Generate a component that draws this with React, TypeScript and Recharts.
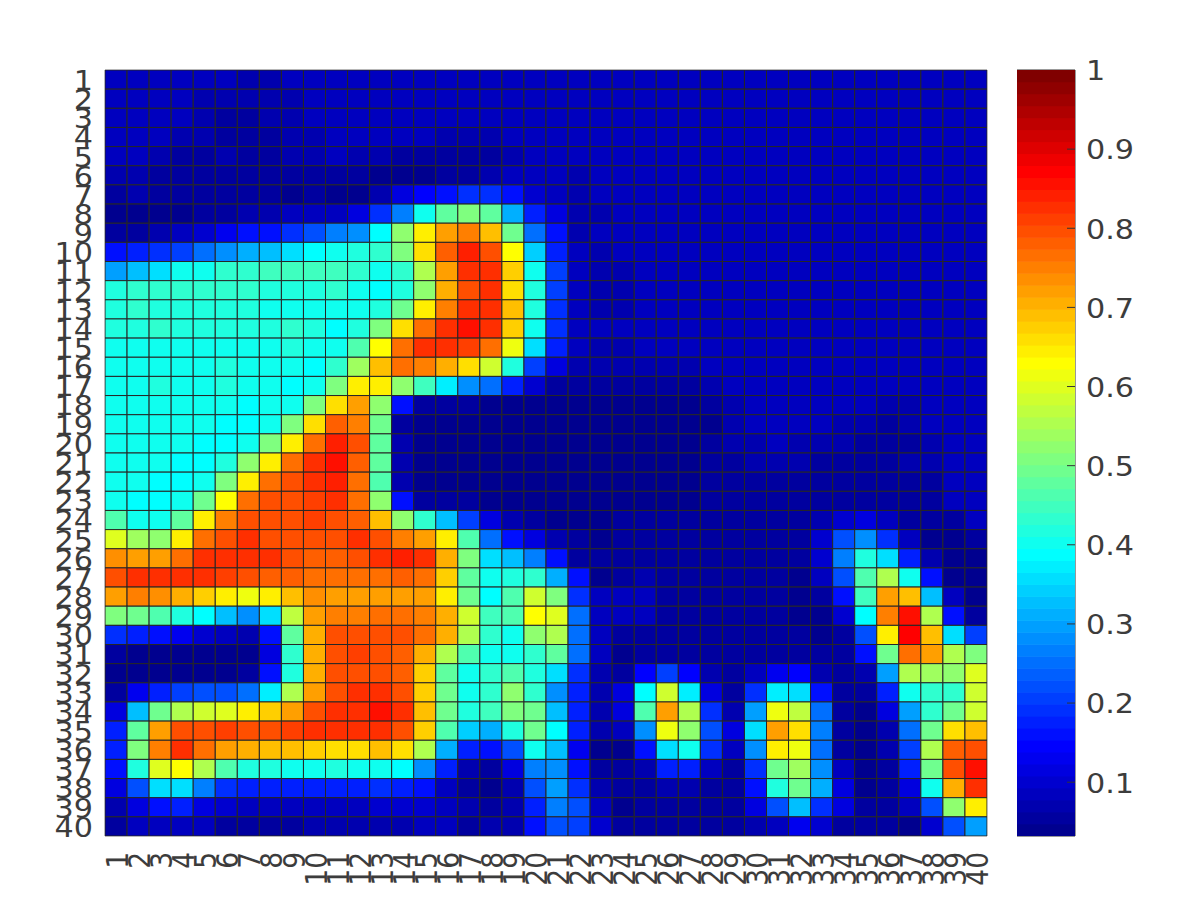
import React from 'react';
import { ScatterChart, Scatter, XAxis, YAxis, ReferenceArea } from 'recharts';

const r01 = [.09,.085,.085,.085,.08,.08,.075,.075,.08,.08,.085, .085,.085,.085,.085,.085,.09,.09,.085,.085,.085,.085,.085,.085, .085,.085,.085,.085,.085,.085,.085,.085,.085,.085,.085,.085,.085,.085,.085,.085];
const r02 = [.09,.085,.09,.08,.075,.07,.065,.07,.075,.08,.085, .085,.085,.085,.085,.085,.085,.085,.085,.085,.085,.085,.085,.085, .085,.085,.085,.085,.085,.085,.085,.085,.085,.085,.085,.085,.085,.085,.085,.085];
const r03 = [.09,.085,.08,.08,.07,.06,.055,.065,.07,.08,.085, .085,.085,.085,.085,.085,.09,.085,.085,.085,.085,.085,.085,.085, .085,.085,.085,.085,.085,.085,.085,.085,.085,.085,.085,.085,.085,.085,.085,.085];
const r04 = [.09,.085,.085,.07,.065,.06,.06,.06,.065,.075,.085, .085,.08,.08,.08,.07,.065,.075,.08,.085,.085,.085,.085,.085, .085,.085,.085,.085,.085,.085,.085,.085,.085,.085,.085,.085,.085,.085,.085,.085];
const r05 = [.085,.085,.075,.06,.06,.065,.06,.06,.065,.07,.08, .07,.07,.055,.055,.05,.06,.055,.07,.08,.08,.085,.085,.085, .085,.085,.085,.085,.085,.085,.085,.085,.085,.085,.085,.085,.085,.085,.085,.085];
const r06 = [.07,.075,.06,.055,.055,.06,.06,.06,.055,.055,.06, .055,.045,.045,.045,.06,.06,.07,.08,.08,.08,.075,.085,.085, .085,.085,.085,.085,.085,.085,.085,.085,.085,.085,.085,.085,.085,.085,.085,.085];
const r07 = [.06,.065,.06,.06,.055,.05,.05,.05,.045,.05,.045, .045,.07,.11,.15,.165,.19,.19,.155,.1,.08,.075,.08,.085, .085,.085,.085,.085,.085,.085,.085,.085,.085,.085,.085,.085,.085,.085,.085,.085];
const r08 = [.04,.04,.04,.045,.05,.05,.065,.075,.08,.085,.09, .12,.19,.26,.395,.48,.515,.475,.31,.17,.11,.075,.075,.085, .085,.085,.085,.085,.085,.085,.085,.085,.085,.085,.085,.085,.085,.085,.085,.085];
const r09 = [.05,.05,.07,.09,.095,.13,.155,.16,.19,.225,.26, .28,.39,.52,.64,.72,.75,.69,.49,.25,.155,.07,.08,.085, .085,.085,.085,.085,.085,.085,.085,.085,.085,.085,.085,.085,.085,.085,.085,.085];
const r10 = [.155,.17,.19,.21,.25,.275,.31,.33,.35,.39,.395, .42,.44,.51,.66,.785,.84,.80,.63,.34,.17,.08,.075,.08, .085,.085,.085,.085,.085,.085,.085,.085,.085,.085,.085,.085,.085,.085,.085,.085];
const r11 = [.30,.33,.36,.395,.40,.43,.43,.45,.45,.45,.45, .43,.40,.43,.55,.72,.82,.82,.67,.395,.20,.08,.075,.07, .085,.085,.085,.085,.085,.085,.085,.085,.085,.085,.085,.085,.085,.085,.085,.085];
const r12 = [.42,.44,.44,.44,.44,.44,.44,.42,.42,.42,.43, .40,.38,.42,.52,.70,.80,.82,.665,.42,.20,.08,.07,.07, .085,.085,.085,.085,.085,.085,.085,.085,.085,.085,.085,.085,.085,.085,.085,.085];
const r13 = [.42,.44,.42,.42,.42,.42,.42,.41,.41,.40,.40, .395,.42,.49,.64,.755,.82,.82,.69,.42,.19,.08,.075,.075, .085,.085,.085,.085,.085,.085,.085,.085,.085,.085,.085,.085,.085,.085,.085,.085];
const r14 = [.42,.42,.43,.42,.42,.42,.42,.42,.43,.42,.39, .42,.51,.665,.77,.82,.85,.82,.67,.395,.19,.09,.08,.08, .085,.085,.085,.085,.085,.085,.085,.085,.085,.085,.085,.085,.085,.085,.085,.085];
const r15 = [.41,.41,.41,.41,.41,.41,.41,.41,.42,.395,.395, .46,.63,.77,.83,.83,.81,.77,.61,.36,.17,.08,.075,.07, .08,.085,.085,.085,.085,.085,.085,.085,.085,.085,.085,.085,.085,.085,.085,.085];
const r16 = [.41,.41,.41,.41,.41,.42,.41,.41,.395,.39,.44, .54,.69,.77,.75,.71,.66,.58,.42,.21,.12,.075,.07,.07, .07,.065,.065,.085,.085,.085,.085,.085,.085,.085,.085,.085,.085,.085,.085,.085];
const r17 = [.41,.41,.42,.41,.41,.42,.41,.395,.39,.41,.51, .64,.64,.52,.45,.37,.28,.25,.17,.10,.06,.05,.055,.055, .055,.055,.055,.07,.085,.085,.085,.085,.085,.085,.085,.085,.085,.085,.085,.085];
const r18 = [.40,.40,.41,.41,.41,.41,.39,.395,.40,.51,.665, .72,.53,.155,.05,.05,.05,.045,.04,.04,.04,.04,.045,.04, .04,.04,.035,.05,.075,.085,.085,.085,.085,.085,.085,.075,.07,.08,.085,.085];
const r19 = [.40,.40,.41,.41,.41,.39,.39,.41,.51,.66,.785, .755,.49,.06,.04,.04,.04,.04,.04,.04,.04,.04,.04,.04, .04,.04,.035,.045,.07,.085,.085,.08,.08,.075,.065,.06,.07,.08,.09,.09];
const r20 = [.40,.40,.41,.40,.39,.39,.41,.51,.645,.77,.84, .80,.48,.07,.045,.04,.04,.04,.04,.04,.04,.04,.04,.04, .04,.04,.04,.05,.07,.075,.08,.075,.07,.065,.06,.06,.055,.07,.085,.09];
const r21 = [.40,.40,.41,.39,.39,.42,.52,.65,.76,.82,.86, .785,.48,.07,.04,.04,.04,.04,.04,.04,.04,.04,.04,.04, .04,.04,.04,.05,.06,.065,.07,.065,.06,.05,.05,.05,.065,.07,.085,.09];
const r22 = [.41,.40,.39,.39,.41,.51,.64,.76,.80,.82,.84, .77,.46,.07,.04,.04,.04,.04,.04,.04,.04,.04,.04,.04, .045,.04,.04,.05,.06,.06,.055,.05,.05,.055,.05,.05,.055,.06,.09,.09];
const r23 = [.40,.39,.39,.40,.50,.63,.76,.80,.80,.81,.82, .77,.53,.155,.06,.05,.06,.04,.04,.04,.04,.04,.04,.04, .04,.04,.04,.05,.055,.06,.06,.055,.05,.05,.05,.05,.055,.06,.085,.09];
const r24 = [.46,.40,.40,.48,.64,.75,.80,.80,.80,.81,.80, .785,.695,.53,.43,.32,.20,.12,.075,.05,.04,.04,.04,.05, .05,.05,.05,.05,.05,.05,.05,.05,.07,.10,.12,.08,.05,.05,.06,.08];
const r25 = [.60,.54,.53,.64,.76,.80,.82,.80,.80,.80,.80, .82,.79,.755,.72,.64,.46,.25,.16,.12,.07,.05,.045,.055, .05,.05,.05,.05,.05,.05,.05,.05,.10,.22,.28,.19,.08,.045,.04,.06];
const r26 = [.73,.72,.72,.77,.82,.83,.82,.82,.80,.78,.785, .80,.82,.84,.82,.70,.51,.36,.32,.27,.16,.06,.05,.05, .06,.06,.06,.055,.05,.05,.05,.05,.10,.27,.42,.36,.17,.07,.04,.035];
const r27 = [.80,.82,.82,.82,.82,.81,.79,.78,.78,.76,.765, .76,.76,.785,.77,.67,.48,.395,.42,.43,.31,.155,.045,.05, .07,.06,.06,.055,.05,.05,.05,.045,.08,.22,.47,.55,.395,.155,.04,.035];
const r28 = [.72,.75,.73,.70,.67,.64,.62,.64,.69,.73,.72, .72,.72,.72,.72,.645,.50,.38,.46,.59,.51,.19,.09,.08, .09,.06,.06,.055,.05,.05,.05,.04,.05,.155,.45,.72,.695,.33,.09,.035];
const r29 = [.51,.50,.47,.42,.39,.32,.28,.36,.57,.72,.75, .755,.76,.76,.755,.70,.59,.45,.47,.63,.60,.25,.09,.08, .09,.06,.06,.055,.05,.05,.05,.045,.04,.10,.39,.75,.85,.55,.155,.05];
const r30 = [.19,.18,.16,.13,.10,.08,.07,.16,.48,.71,.79, .80,.80,.80,.77,.70,.56,.44,.41,.52,.55,.25,.08,.05, .05,.05,.05,.06,.06,.06,.05,.05,.04,.06,.22,.64,.87,.695,.36,.20];
const r31 = [.06,.04,.04,.04,.04,.045,.045,.12,.43,.70,.80, .81,.79,.785,.71,.55,.46,.40,.41,.44,.48,.25,.08,.04, .05,.05,.05,.05,.05,.05,.05,.05,.05,.05,.155,.49,.77,.72,.55,.51];
const r32 = [.04,.04,.04,.04,.04,.04,.05,.16,.42,.70,.80, .80,.80,.78,.67,.48,.395,.43,.47,.42,.36,.19,.07,.05, .15,.21,.15,.07,.05,.08,.13,.15,.07,.05,.07,.29,.55,.54,.52,.60];
const r33 = [.05,.13,.18,.20,.22,.22,.25,.37,.55,.72,.79, .82,.82,.80,.67,.49,.41,.44,.52,.44,.28,.17,.07,.12, .39,.59,.37,.11,.05,.19,.37,.35,.16,.05,.06,.18,.395,.44,.44,.58];
const r34 = [.12,.32,.49,.55,.58,.60,.64,.67,.72,.79,.82, .83,.85,.82,.69,.50,.42,.45,.51,.49,.33,.18,.07,.12, .47,.72,.55,.19,.07,.29,.61,.57,.25,.05,.04,.11,.29,.43,.50,.58];
const r35 = [.17,.48,.72,.80,.80,.81,.80,.80,.81,.82,.82, .82,.82,.80,.67,.46,.34,.31,.42,.49,.39,.18,.07,.08, .28,.61,.53,.22,.11,.35,.72,.665,.27,.05,.04,.07,.25,.50,.665,.695];
const r36 = [.18,.51,.75,.82,.77,.72,.70,.69,.69,.67,.665, .665,.69,.665,.55,.31,.17,.155,.22,.395,.32,.13,.04,.045, .155,.36,.395,.19,.08,.28,.65,.61,.25,.05,.035,.07,.21,.56,.785,.80];
const r37 = [.155,.42,.60,.63,.55,.47,.42,.42,.41,.41,.42, .41,.41,.39,.28,.17,.07,.05,.12,.26,.28,.155,.05,.05, .07,.17,.17,.09,.06,.19,.50,.54,.28,.08,.04,.05,.18,.50,.80,.86];
const r38 = [.12,.22,.36,.35,.26,.19,.17,.17,.18,.17,.17, .17,.19,.17,.155,.09,.05,.04,.07,.22,.30,.19,.07,.05, .05,.07,.07,.05,.05,.155,.42,.50,.31,.12,.04,.05,.11,.395,.71,.82];
const r39 = [.07,.12,.16,.17,.12,.10,.09,.08,.08,.08,.08, .09,.10,.10,.10,.08,.07,.05,.07,.17,.26,.22,.08,.045, .05,.06,.06,.05,.05,.11,.22,.32,.19,.11,.05,.05,.09,.22,.52,.64];
const r40 = [.05,.08,.08,.08,.08,.06,.06,.05,.05,.07,.075, .075,.07,.075,.08,.08,.06,.07,.07,.155,.22,.21,.10,.05, .05,.06,.06,.06,.05,.07,.09,.13,.10,.06,.05,.05,.04,.10,.22,.30];
const valueRows = [r01,r02,r03,r04,r05,r06,r07,r08,r09,r10,r11,r12,r13,r14,r15,r16,r17,r18,r19,r20,r21,r22,r23,r24,r25,r26,r27,r28,r29,r30,r31,r32,r33,r34,r35,r36,r37,r38,r39,r40];

const tickNumbers = [1,2,3,4,5,6,7,8,9,10,11,12,13,14,15,16,17,18,19,20,21,22,23,24,25,26,27,28,29,30,31,32,33,34,35,36,37,38,39,40];
const barTicks = [0.1,0.2,0.3,0.4,0.5,0.6,0.7,0.8,0.9,1];
const jet = [
  '#00008f','#00009f','#0000af','#0000bf','#0000cf','#0000df','#0000ef','#0000ff',
  '#000fff','#001fff','#002fff','#003fff','#004fff','#005fff','#006fff','#007fff',
  '#008fff','#009fff','#00afff','#00bfff','#00cfff','#00dfff','#00efff','#00ffff',
  '#0fffef','#1fffdf','#2fffcf','#3fffbf','#4fffaf','#5fff9f','#6fff8f','#7fff7f',
  '#8fff6f','#9fff5f','#afff4f','#bfff3f','#cfff2f','#dfff1f','#efff0f','#ffff00',
  '#ffef00','#ffdf00','#ffcf00','#ffbf00','#ffaf00','#ff9f00','#ff8f00','#ff7f00',
  '#ff6f00','#ff5f00','#ff4f00','#ff3f00','#ff2f00','#ff1f00','#ff0f00','#ff0000',
  '#ef0000','#df0000','#cf0000','#bf0000','#af0000','#9f0000','#8f0000','#800000',
];
const C_MIN = 0.032;
const C_MAX = 1;
const colorOf = (v: number) => {
  const i = Math.floor(((v - C_MIN) / (C_MAX - C_MIN)) * jet.length);
  return jet[Math.max(0, Math.min(jet.length - 1, i))];
};

const cells = valueRows.flatMap((row, ri) => row.map((v, ci) => ({ col: ci + 1, row: ri + 1, v })));
const barLevels = jet.map((color, i) => ({ x: 0.5, level: C_MIN + ((i + 0.5) * (C_MAX - C_MIN)) / jet.length, color }));

const W = 1196, H = 906;
const PLOT_L = 105, PLOT_T = 70, PLOT_R = 987, PLOT_B = 836;
const CELL_W = (PLOT_R - PLOT_L) / 40;
const CELL_H = (PLOT_B - PLOT_T) / 40;
const BAR_L = 1017, BAR_R = 1075;
const BAR_STEP = (PLOT_B - PLOT_T) / jet.length;
const FONT = '"DejaVu Sans"';
const TEXT = '#3c3c3c';
const SX = 1.14;
const FS = 26.5;

const HeatCell = (p: any) => (
  <rect x={p.cx - CELL_W / 2} y={p.cy - CELL_H / 2} width={CELL_W} height={CELL_H}
    fill={colorOf(p.payload.v)} stroke="#262626" strokeWidth={1} />
);
const BarCell = (p: any) => (
  <rect x={p.cx - (BAR_R - BAR_L) / 2} y={p.cy - BAR_STEP / 2 - 0.3} width={BAR_R - BAR_L} height={BAR_STEP + 0.6} fill={p.payload.color} />
);
const XTick = (p: any) => (
  <text transform={`translate(${p.x + 2},${p.y + 16}) scale(${SX},1) rotate(-90)`} textAnchor="end" dominantBaseline="central"
    fontFamily={FONT} fontSize={FS} fill={TEXT}>{p.payload.value}</text>
);
const YTick = (p: any) => (
  <text transform={`translate(${p.x - 12},${p.y + 1.5}) scale(${SX},1)`} textAnchor="end" dominantBaseline="central"
    fontFamily={FONT} fontSize={FS} fill={TEXT}>{p.payload.value}</text>
);
const BarTick = (p: any) => (
  <g>
    {p.payload.value < 1 && <line x1={p.x - 8} x2={p.x} y1={p.y} y2={p.y} stroke="#333" strokeWidth={1} />}
    <text transform={`translate(${p.x + 11},${p.y + 1.5}) scale(${SX},1)`} textAnchor="start" dominantBaseline="central"
      fontFamily={FONT} fontSize={FS} fill={TEXT}>{p.payload.value}</text>
  </g>
);

export default function App() {
  return (
    <div style={{ position: 'absolute', left: 0, top: 0, width: W, height: H, background: '#fff' }}>
      <div style={{ position: 'absolute', left: 0, top: 0 }}>
        <ScatterChart width={PLOT_R + 10} height={H} margin={{ left: 0, top: PLOT_T, right: 10, bottom: 0 }}>
          <XAxis type="number" dataKey="col" domain={[0.5, 40.5]} ticks={tickNumbers} interval={0} height={H - PLOT_B}
            axisLine={false} tickLine={false} tickSize={0} tickMargin={0} tick={XTick} allowDataOverflow />
          <YAxis type="number" dataKey="row" domain={[0.5, 40.5]} ticks={tickNumbers} interval={0} width={PLOT_L} reversed
            axisLine={false} tickLine={false} tickSize={0} tickMargin={0} tick={YTick} allowDataOverflow />
          <Scatter data={cells} shape={HeatCell} isAnimationActive={false} />
          <ReferenceArea x1={0.5} x2={40.5} y1={0.5} y2={40.5} fill="none" stroke="#6e6e6e" strokeWidth={1} />
        </ScatterChart>
      </div>
      <div style={{ position: 'absolute', left: BAR_L, top: 0 }}>
        <ScatterChart width={W - BAR_L} height={H} margin={{ left: 0, top: PLOT_T, right: 0, bottom: H - PLOT_B }}>
          <XAxis type="number" dataKey="x" domain={[0, 1]} hide />
          <YAxis type="number" dataKey="level" orientation="right" domain={[C_MIN, C_MAX]} ticks={barTicks} interval={0}
            width={W - BAR_R} axisLine={false} tickLine={false} tickSize={0} tickMargin={0} tick={BarTick} allowDataOverflow />
          <Scatter data={barLevels} shape={BarCell} isAnimationActive={false} />
          <ReferenceArea x1={0} x2={1} y1={C_MIN} y2={C_MAX} fill="none" stroke="#333" strokeWidth={1} />
        </ScatterChart>
      </div>
    </div>
  );
}
